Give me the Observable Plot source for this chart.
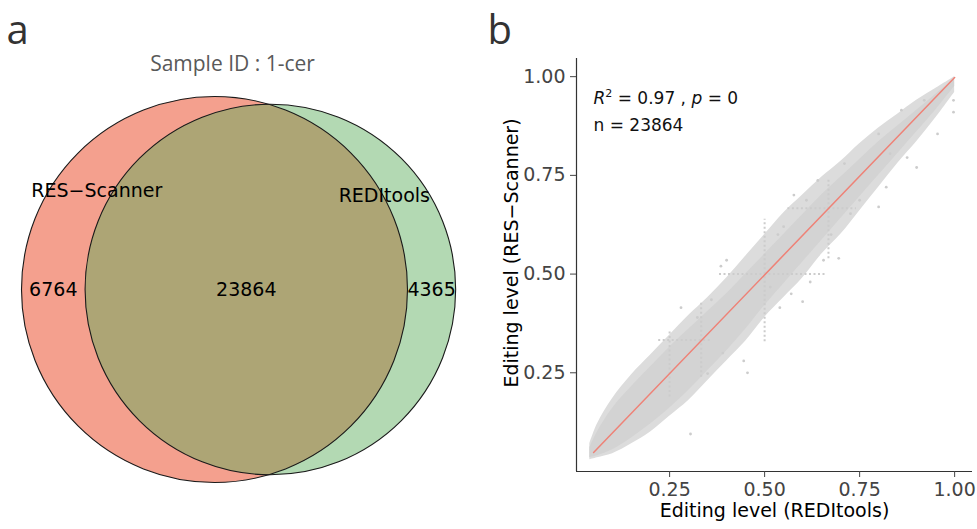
<!DOCTYPE html>
<html><head><meta charset="utf-8">
<script src="https://cdn.jsdelivr.net/npm/d3@7"></script>
<script src="https://cdn.jsdelivr.net/npm/@observablehq/plot@0.6"></script>
<style>
html,body{margin:0;padding:0;background:#fff;}
#wrap{display:flex;width:977px;height:529px;overflow:hidden;}
#wrap svg{display:block;flex:none;}
</style></head><body><div id="wrap"></div>
<script>
// ---------- Panel a : Venn diagram ----------
const vennSets   = ["RES\u2212Scanner", "REDItools"];
const vennOnly   = [6764, 4365];
const vennShared = 23864;
const vennTitle  = "Sample ID : 1-cer";

// ---------- Panel b : scatter ----------
const bandX     = [0.04, 0.06, 0.10, 0.15, 0.20, 0.25, 0.30, 0.35, 0.40, 0.45, 0.50, 0.55, 0.60, 0.65, 0.70, 0.75, 0.80, 0.85, 0.90, 0.95, 1.00];
const bandOutLo = [0.030, 0.035, 0.045, 0.070, 0.100, 0.140, 0.180, 0.230, 0.280, 0.330, 0.390, 0.440, 0.490, 0.550, 0.600, 0.660, 0.720, 0.780, 0.835, 0.895, 0.960];
const bandOutHi = [0.070, 0.120, 0.185, 0.245, 0.295, 0.345, 0.395, 0.440, 0.490, 0.545, 0.600, 0.655, 0.700, 0.745, 0.785, 0.830, 0.870, 0.905, 0.940, 0.970, 1.000];
const bandLo    = [0.035, 0.040, 0.055, 0.085, 0.120, 0.160, 0.205, 0.255, 0.305, 0.360, 0.420, 0.475, 0.530, 0.585, 0.640, 0.695, 0.750, 0.805, 0.860, 0.915, 0.975];
const bandHi    = [0.060, 0.100, 0.160, 0.215, 0.265, 0.315, 0.360, 0.405, 0.450, 0.500, 0.550, 0.600, 0.650, 0.700, 0.745, 0.790, 0.835, 0.875, 0.915, 0.955, 0.995];

const outlierX = [0.997, 0.997, 0.90, 0.80, 0.82, 0.695, 0.675, 0.60, 0.62, 0.455, 0.305, 0.40, 0.385, 0.577, 0.80, 0.86, 0.92, 0.875, 0.535, 0.55, 0.655, 0.36, 0.323, 0.28, 0.445, 0.515, 0.54, 0.57, 0.726, 0.75, 0.83, 0.955, 0.71, 0.64, 0.61, 0.39, 0.35];
const outlierY = [0.94, 0.91, 0.77, 0.67, 0.72, 0.54, 0.60, 0.43, 0.48, 0.25, 0.095, 0.535, 0.52, 0.70, 0.855, 0.915, 0.94, 0.795, 0.60, 0.62, 0.535, 0.435, 0.39, 0.415, 0.28, 0.467, 0.415, 0.45, 0.653, 0.687, 0.805, 0.855, 0.78, 0.737, 0.687, 0.30, 0.248];

const streakX1 = [0.38, 0.50, 0.56, 0.668, 0.22, 0.333, 0.25];
const streakY1 = [0.50, 0.33, 0.667, 0.54, 0.333, 0.24, 0.19];
const streakX2 = [0.66, 0.50, 0.74, 0.668, 0.36, 0.333, 0.25];
const streakY2 = [0.50, 0.64, 0.667, 0.74, 0.333, 0.43, 0.36];

const fitX = [0.05, 1.00];
const fitY = [0.048, 0.998];

const axisTicks = [0.25, 0.50, 0.75, 1.00];
const xTitle = "Editing level (REDItools)";
const yTitle = "Editing level (RES\u2212Scanner)";
const statR2 = "0.97", statP = "0", statN = 23864;

// ---------- Venn geometry (area proportional) ----------
const sizeA = vennOnly[0] + vennShared, sizeB = vennOnly[1] + vennShared;
const k = 193 / Math.sqrt(sizeA / Math.PI);
const rA = k * Math.sqrt(sizeA / Math.PI), rB = k * Math.sqrt(sizeB / Math.PI);
const target = k * k * vennShared;
function lens(d) {
  const a1 = Math.acos((d*d + rA*rA - rB*rB) / (2*d*rA));
  const a2 = Math.acos((d*d + rB*rB - rA*rA) / (2*d*rB));
  const t = Math.sqrt((-d+rA+rB)*(d+rA-rB)*(d-rA+rB)*(d+rA+rB));
  return rA*rA*a1 + rB*rB*a2 - 0.5*t;
}
let lo = Math.abs(rA - rB) + 1e-6, hi = rA + rB;
for (let i = 0; i < 80; i++) { const m = (lo + hi) / 2; if (lens(m) > target) lo = m; else hi = m; }
const dist = (lo + hi) / 2;
const leftEdge = 21, cy = 289;
const cxA = leftEdge + rA, cxB = cxA + dist;
const circleA = [{x: cxA, y: cy}], circleB = [{x: cxB, y: cy}];
const counts = [
  {x: ((cxA - rA) + (cxB - rB)) / 2, y: cy, t: String(vennOnly[0])},
  {x: ((cxB - rB) + (cxA + rA)) / 2, y: cy, t: String(vennShared)},
  {x: ((cxA + rA) + (cxB + rB)) / 2, y: cy, t: String(vennOnly[1])}
];
const catLabels = [
  {x: cxA - 0.61 * rA, y: cy - 0.51 * rA, t: vennSets[0]},
  {x: cxB + 0.615 * rB, y: cy - 0.505 * rB, t: vennSets[1]}
];

const venn = Plot.plot({
  width: 480, height: 529, margin: 0,
  x: {type: "identity", axis: null}, y: {type: "identity", axis: null},
  style: {fontFamily: "DejaVu Sans", fontSize: "19px", background: "white", color: "black"},
  marks: [
    Plot.dot(circleA, {x: "x", y: "y", r: rA, fill: "#E62C04", fillOpacity: 0.45}),
    Plot.dot(circleB, {x: "x", y: "y", r: rB, fill: "#56AA56", fillOpacity: 0.45}),
    Plot.dot(circleA, {x: "x", y: "y", r: rA, fill: "none", stroke: "#1a1a1a", strokeWidth: 1.1}),
    Plot.dot(circleB, {x: "x", y: "y", r: rB, fill: "none", stroke: "#1a1a1a", strokeWidth: 1.1}),
    Plot.text(counts, {x: "x", y: "y", text: "t", fill: "black", fontSize: 19}),
    Plot.text(catLabels, {x: "x", y: "y", text: "t", fill: "black", fontSize: 19}),
    Plot.text([vennTitle], {frameAnchor: "top", textAnchor: "middle", lineAnchor: "middle", dx: -8, dy: 64, fontFamily: "Open Sans", fontSize: 21, fill: "#595959"}),
    Plot.text(["a"], {frameAnchor: "top-left", textAnchor: "start", lineAnchor: "middle", dx: 6, dy: 31, fontFamily: "Open Sans", fontSize: 40, fill: "#333"})
  ]
});

// ---------- Scatter ----------
const band = bandX.map((x, i) => ({x, lo: bandLo[i], hi: bandHi[i], olo: bandOutLo[i], ohi: bandOutHi[i]}));
const outliers = outlierX.map((x, i) => ({x, y: outlierY[i]}));
const streaks = streakX1.map((x1, i) => ({x1, y1: streakY1[i], x2: streakX2[i], y2: streakY2[i]}));
const fit = fitX.map((x, i) => ({x, y: fitY[i]}));
const xDomain = [0.005, 1.047], yDomain = [0, 1.046];
const annot = `R2 = ${statR2} , p = ${statP}`;

const scatter = Plot.plot({
  width: 497, height: 529,
  marginLeft: 96, marginRight: 5, marginTop: 58, marginBottom: 58,
  x: {domain: xDomain}, y: {domain: yDomain},
  style: {fontFamily: "DejaVu Sans", fontSize: "19px", background: "white", color: "#333"},
  marks: [
    Plot.areaY(band, {x: "x", y1: "olo", y2: "ohi", fill: "#dcdcdc", curve: "catmull-rom"}),
    Plot.areaY(band, {x: "x", y1: "lo", y2: "hi", fill: "#d3d3d3", curve: "catmull-rom"}),
    Plot.link(streaks, {x1: "x1", y1: "y1", x2: "x2", y2: "y2", stroke: "#cccccc", strokeWidth: 2, strokeDasharray: "2,2.5"}),
    Plot.dot(outliers, {x: "x", y: "y", r: 1.4, fill: "#cccccc"}),
    Plot.line(fit, {x: "x", y: "y", stroke: "#EE8277", strokeWidth: 1.5}),
    Plot.ruleX([xDomain[0]], {stroke: "#333", strokeWidth: 1.2}),
    Plot.ruleY([yDomain[0]], {stroke: "#333", strokeWidth: 1.2}),
    Plot.axisX({ticks: axisTicks, tickFormat: d3.format(".2f"), tickSize: 6, tickPadding: 5, label: null, color: "#444"}),
    Plot.axisY({ticks: axisTicks, tickFormat: d3.format(".2f"), tickSize: 6, tickPadding: 5, label: null, color: "#444"}),
    Plot.text([xTitle], {frameAnchor: "bottom", textAnchor: "middle", lineAnchor: "middle", dy: 39, fill: "black", fontSize: 19}),
    Plot.text([yTitle], {frameAnchor: "left", textAnchor: "middle", lineAnchor: "middle", rotate: -90, dx: -65, dy: -12, fill: "black", fontSize: 19}),
    Plot.text([annot], {frameAnchor: "top-left", textAnchor: "start", lineAnchor: "middle", dx: 17, dy: 40, fill: "#111", fontSize: 17}),
    Plot.text([`n = ${statN}`], {frameAnchor: "top-left", textAnchor: "start", lineAnchor: "middle", dx: 17, dy: 67, fill: "#111", fontSize: 17}),
    Plot.text(["b"], {frameAnchor: "top-left", textAnchor: "start", lineAnchor: "middle", dx: -89, dy: -27, fontFamily: "Open Sans", fontSize: 40, fill: "#333"})
  ]
});

// rich text for R^2 and italic p
d3.select(scatter).selectAll("text").filter(function() { return this.textContent === annot; }).each(function() {
  const t = d3.select(this);
  t.text(null);
  t.append("tspan").attr("font-style", "italic").text("R");
  t.append("tspan").attr("dy", "-7").attr("font-size", "11").text("2");
  t.append("tspan").attr("dy", "7").text(` = ${statR2} , `);
  t.append("tspan").attr("font-style", "italic").text("p");
  t.append("tspan").text(` = ${statP}`);
});

document.getElementById("wrap").append(venn, scatter);
</script></body></html>
